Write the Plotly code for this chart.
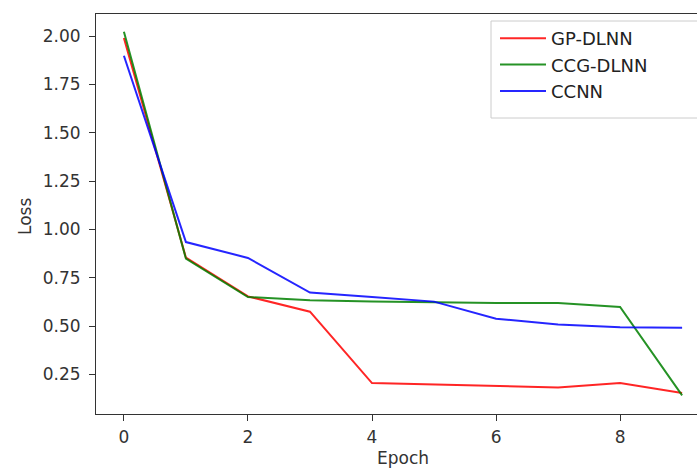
import plotly.graph_objects as go

epochs = [0, 1, 2, 3, 4, 5, 6, 7, 8, 9]
gp_dlnn = [1.99, 0.854, 0.654, 0.575, 0.206, 0.199, 0.192, 0.183, 0.206, 0.154]
ccg_dlnn = [2.022, 0.849, 0.651, 0.634, 0.627, 0.622, 0.620, 0.620, 0.599, 0.142]
ccnn = [1.898, 0.935, 0.853, 0.674, 0.651, 0.627, 0.539, 0.509, 0.495, 0.492]
y_ticks = [0.25, 0.50, 0.75, 1.00, 1.25, 1.50, 1.75, 2.00]
x_ticks = [0, 2, 4, 6, 8]

W, H = 697, 470
L, R, T, B = 96, 0, 14, 56
pw, ph = W - L - R, H - T - B

def px_x(p):
    return (p - L) / pw

def px_y(p):
    return (H - B - p) / ph

fig = go.Figure()
for name, vals, col in [("GP-DLNN", gp_dlnn, "#ff0000"),
                        ("CCG-DLNN", ccg_dlnn, "#008000"),
                        ("CCNN", ccnn, "#0000ff")]:
    fig.add_trace(go.Scatter(x=epochs, y=vals, mode="lines", name=name,
                             line=dict(color=col, width=2), opacity=0.85))

font = dict(family="DejaVu Sans", size=17, color="#333333")

fig.update_layout(
    width=W, height=H,
    margin=dict(l=L, r=R, t=T, b=B),
    paper_bgcolor="white", plot_bgcolor="white",
    font=font,
    showlegend=True,
    legend=dict(x=px_x(495), y=px_y(20), xanchor="left", yanchor="top",
                bgcolor="rgba(0,0,0,0)", borderwidth=0,
                font=dict(family="DejaVu Sans", size=18, color="#222222"),
                tracegroupgap=0, itemwidth=46),
    xaxis=dict(range=[-0.45, 9.24], tickvals=x_ticks, ticktext=[str(v) for v in x_ticks],
               showgrid=False, zeroline=False, showline=True, linecolor="#333333",
               linewidth=1, mirror=True, ticks="outside", ticklen=6, tickcolor="#333333",
               tickfont=font, ticklabelstandoff=2),
    yaxis=dict(range=[0.046, 2.114], tickvals=y_ticks,
               ticktext=["%.2f" % v for v in y_ticks],
               showgrid=False, zeroline=False, showline=True, linecolor="#333333",
               linewidth=1, ticks="outside", ticklen=6, tickcolor="#333333",
               tickfont=font, ticklabelstandoff=5),
    shapes=[dict(type="rect", xref="paper", yref="paper",
                 x0=px_x(491), x1=px_x(720), y0=px_y(118), y1=px_y(21),
                 line=dict(color="#cccccc", width=1),
                 fillcolor="rgba(255,255,255,0.8)", layer="above")],
    annotations=[
        dict(text="Loss", xref="paper", yref="paper", x=px_x(25), y=px_y(217),
             showarrow=False, textangle=-90, font=font, xanchor="center", yanchor="middle"),
        dict(text="Epoch", xref="paper", yref="paper", x=px_x(403), y=px_y(458),
             showarrow=False, font=dict(family="DejaVu Sans", size=17, color="#333333"),
             xanchor="center", yanchor="middle"),
    ],
)

fig.write_html("out.html")
